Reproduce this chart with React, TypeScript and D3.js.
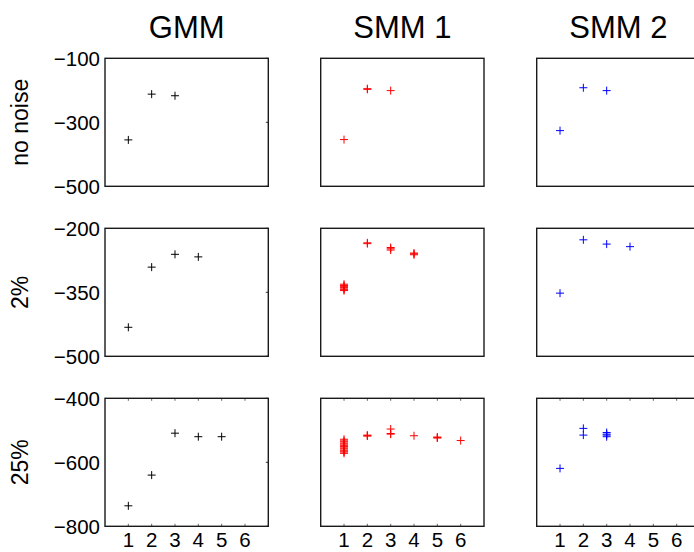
import React from "react";
import * as d3 from "d3";

// Log-likelihood per number of components k, for each model and noise level.
type Pt = [number, number];

const methods = ["GMM", "SMM 1", "SMM 2"];
const noiseLevels = ["no noise", "2%", "25%"];
const colors = ["#000000", "#ff0000", "#0000ff"];

const yDomains: [number, number][] = [
  [-500, -100],
  [-500, -200],
  [-800, -400],
];
const yTickValues = [
  [-500, -300, -100],
  [-500, -350, -200],
  [-800, -600, -400],
];
const kTicks = [1, 2, 3, 4, 5, 6];

const gmmNoNoise: Pt[] = [[1, -355], [2, -212], [3, -217]];
const smm1NoNoise: Pt[] = [[1, -354], [2, -195], [2, -197], [3, -201]];
const smm2NoNoise: Pt[] = [[1, -326], [2, -192], [3, -201]];

const gmm2pct: Pt[] = [[1, -432], [2, -291], [3, -261], [4, -267]];
const smm12pct: Pt[] = [
  [1, -331], [1, -334], [1, -336], [1, -339], [1, -342], [1, -344], [1, -346],
  [2, -234], [2, -236],
  [3, -245], [3, -248], [3, -251],
  [4, -258], [4, -260], [4, -262],
];
const smm22pct: Pt[] = [[1, -352], [2, -227], [3, -237], [4, -243]];

const gmm25pct: Pt[] = [[1, -736], [2, -640], [3, -509], [4, -520], [5, -520]];
const smm125pct: Pt[] = [
  [1, -528], [1, -533], [1, -536], [1, -540], [1, -543], [1, -547], [1, -551],
  [1, -555], [1, -558], [1, -562], [1, -565], [1, -568], [1, -572],
  [2, -515], [2, -517], [2, -518],
  [3, -496], [3, -510], [3, -512],
  [4, -517],
  [5, -521], [5, -523], [5, -524],
  [6, -532],
];
const smm225pct: Pt[] = [[1, -619], [2, -494], [2, -515], [3, -507], [3, -512], [3, -515], [3, -520]];

const panels: Pt[][][] = [
  [gmmNoNoise, smm1NoNoise, smm2NoNoise],
  [gmm2pct, smm12pct, smm22pct],
  [gmm25pct, smm125pct, smm225pct],
];

const W = 694;
const H = 552;
const colLeft = [105, 320.7, 536.7];
const rowTop = [58.3, 228.3, 398.3];
const pw = 163.3;
const ph = 128;
const font = "'Liberation Sans', Arial, Helvetica, sans-serif";
const fmt = d3.format("d");
const tickLen = 2.5;
const arm = 4;

export default function App() {
  const x = d3.scaleLinear().domain([0, 7]).range([0, pw]);

  return (
    <svg
      width={W}
      height={H}
      style={{ position: "absolute", left: 0, top: 0, display: "block", background: "#fff" }}
      fontFamily={font}
    >
      {methods.map((m, c) => (
        <text
          key={m}
          x={colLeft[c] + pw / 2}
          y={38}
          textAnchor="middle"
          fontSize={31}
          fill="#000"
        >
          {m}
        </text>
      ))}
      {noiseLevels.map((lab, r) => (
        <text
          key={lab}
          transform={`translate(28,${rowTop[r] + ph / 2}) rotate(-90)`}
          textAnchor="middle"
          fontSize={23}
          fill="#000"
        >
          {lab}
        </text>
      ))}
      {panels.map((row, r) => {
        const y = d3.scaleLinear().domain(yDomains[r]).range([ph, 0]);
        return row.map((pts, c) => (
          <g key={`${r}-${c}`} transform={`translate(${colLeft[c]},${rowTop[r]})`}>
            {c === 0 &&
              yTickValues[r].map((t) => (
                <g key={t}>
                  <line x1={pw - tickLen} x2={pw} y1={y(t)} y2={y(t)} stroke="#333" strokeWidth={1} />
                  <text
                    x={-5}
                    y={y(t)}
                    dy="0.36em"
                    textAnchor="end"
                    fontSize={20.5}
                    fill="#000"
                  >
                    {fmt(t)}
                  </text>
                </g>
              ))}
            {r === 2 &&
              kTicks.map((k) => (
                <g key={k}>
                  <line x1={x(k)} x2={x(k)} y1={0} y2={tickLen} stroke="#666" strokeWidth={1} />
                  <line x1={x(k)} x2={x(k)} y1={ph - tickLen} y2={ph} stroke="#666" strokeWidth={1} />
                  <text x={x(k)} y={ph + 20.5} textAnchor="middle" fontSize={20.5} fill="#000">
                    {k}
                  </text>
                </g>
              ))}
            {pts.map(([k, v], i) => {
              const px = x(k);
              const py = y(v);
              return (
                <path
                  key={i}
                  d={`M${px - arm},${py}H${px + arm}M${px},${py - arm}V${py + arm}`}
                  stroke={colors[c]}
                  strokeWidth={1}
                  fill="none"
                />
              );
            })}
            <rect
              x={0}
              y={0}
              width={pw}
              height={ph}
              fill="none"
              stroke="#1a1a1a"
              strokeWidth={1.4}
            />
          </g>
        ));
      })}
    </svg>
  );
}
